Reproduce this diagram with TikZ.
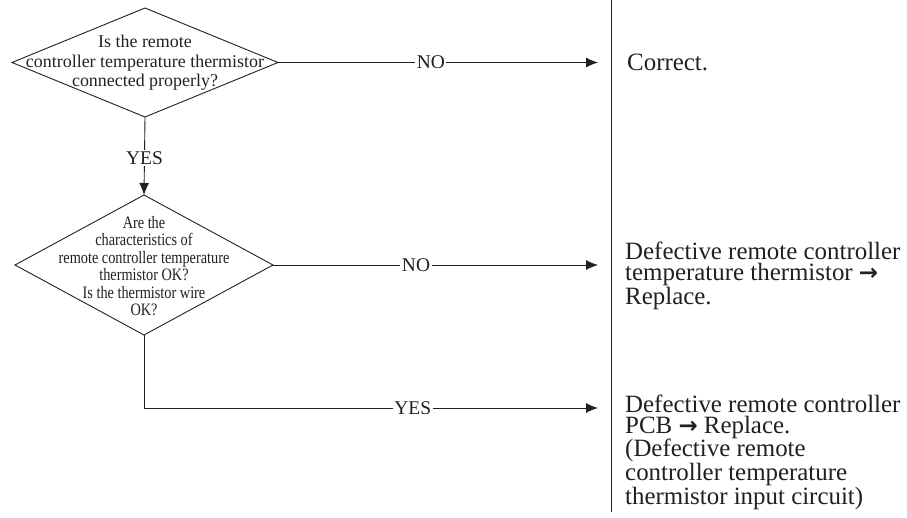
\documentclass[tikz,border=0pt]{standalone}
\usepackage{fontspec}
\setmainfont{Liberation Serif}
\newfontfamily\narrowfont[FakeStretch=0.82]{Liberation Serif}
\newfontfamily\arrowfont{DejaVu Sans}
\newcommand{\harr}{{\arrowfont\bfseries\fontsize{23}{21}\selectfont →}}
\usetikzlibrary{shapes.geometric,arrows.meta}
\definecolor{ink}{RGB}{35,31,32}
\tikzset{
  decision/.style={draw=ink, diamond, line width=0.9bp, inner sep=0pt, outer sep=0pt},
  qtext/.style={align=center, text=ink, inner sep=0pt},
  result/.style={align=left, anchor=west, text=ink, inner sep=0pt, font=\fontsize{25}{21}\selectfont},
  lab/.style={fill=white, text=ink, inner sep=1.5bp, font=\fontsize{19.5}{21}\selectfont},
  conn/.style={draw=ink, line width=0.9bp},
  arr/.style={conn, -{Latex[length=12bp,width=10bp]}},
}
\begin{document}
\begin{tikzpicture}[x=1bp,y=-1bp]
\useasboundingbox (0,0) rectangle (907,518);
% decisions
\node[decision, minimum width=266bp, minimum height=109bp] (d1) at (145,62.5) {};
\node[qtext, font=\fontsize{18}{19.5}\selectfont] (d1t) at (145,63) {Is the remote\\controller temperature thermistor\\connected properly?};
\node[decision, minimum width=258bp, minimum height=140bp] (d2) at (144,265) {};
\node[qtext, font=\narrowfont\fontsize{17.5}{17.6}\selectfont] (d2t) at (144,266) {Are the\\characteristics of\\remote controller temperature\\thermistor OK?\\Is the thermistor wire\\OK?};
% divider
\coordinate (vtop) at (611,0);
\coordinate (vbot) at (611,512);
\draw[conn] (vtop) -- (vbot);
% results
\node[result] (r1) at (627,62) {Correct.};
\node[result] (r2) at (625,276) {Defective remote controller\\temperature thermistor \harr\\Replace.};
\node[result] (r3) at (625,452) {Defective remote controller\\PCB \harr{} Replace.\\(Defective remote\\controller temperature\\thermistor input circuit)};
% arrow end points
\coordinate (a1) at (598,62.5);
\coordinate (a2) at (598,265);
\coordinate (c3) at (144,408);
\coordinate (a3) at (598,408);
% connectors
\draw[arr] (d1.east) -- node[lab, pos=0.478] {NO} (a1);
\draw[arr] (d1.south) -- node[lab, pos=0.526] {YES} (d2.north);
\draw[arr] (d2.east) -- node[lab, pos=0.44] {NO} (a2);
\draw[conn] (d2.south) -- (c3);
\draw[arr] (c3) -- node[lab, pos=0.592] {YES} (a3);
\end{tikzpicture}
\end{document}
